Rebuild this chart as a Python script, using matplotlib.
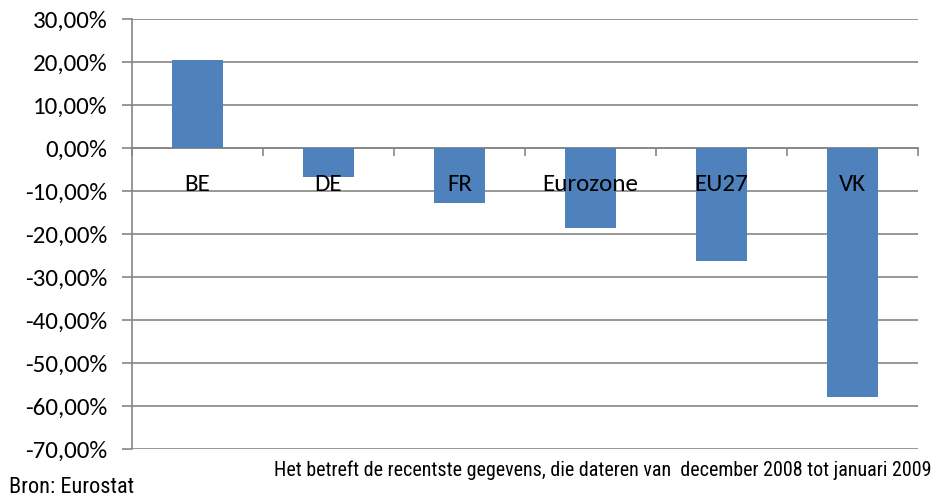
import numpy as np
import matplotlib
matplotlib.use("Agg")
import matplotlib.pyplot as plt
from matplotlib import font_manager as fm
from matplotlib.ticker import FuncFormatter, FixedLocator

# ── data ──
landen = ["BE", "DE", "FR", "Eurozone", "EU27", "VK"]
waarden = [20.5, -6.8, -12.8, -18.5, -26.3, -57.8]   # in %

BAR_KLEUR = "#4F81BD"
GRIJS = "#868686"


def eerste_font(namen):
    # neem de eerste familie die echt geïnstalleerd is
    for n in namen:
        try:
            fm.findfont(fm.FontProperties(family=n), fallback_to_default=False)
            return n
        except ValueError:
            pass
    return "DejaVu Sans"


HOOFD = eerste_font(["Carlito", "Lato", "Open Sans", "Noto Sans"])
SMAL = eerste_font(["Liberation Sans Narrow", "Arial Narrow", "Roboto Condensed", "Liberation Sans"])

plt.rcParams["font.family"] = [HOOFD, "DejaVu Sans"]

fig = plt.figure(figsize=(9.33, 4.99), dpi=100)
ax = fig.add_axes([132 / 933, 1 - 449 / 499, (918 - 132) / 933, (449 - 19) / 499])

x = np.arange(len(landen))
ax.bar(x, waarden, width=0.39, color=BAR_KLEUR, zorder=3)

ax.set_xlim(-0.5, len(landen) - 0.5)
ax.set_ylim(-70, 30)
ax.set_yticks(np.arange(-70, 31, 10))
ax.yaxis.set_major_formatter(FuncFormatter(lambda v, p: f"{v:.2f}%".replace(".", ",")))
ax.grid(axis="y", color=GRIJS, linewidth=1.2, zorder=0)
ax.set_axisbelow(True)

# x-as op de nullijn
ax.spines["bottom"].set_position(("data", 0))
ax.spines["bottom"].set_color(GRIJS)
ax.spines["bottom"].set_linewidth(1.2)
ax.spines["left"].set_color(GRIJS)
ax.spines["left"].set_linewidth(1.2)
ax.spines["top"].set_visible(False)
ax.spines["right"].set_visible(False)

ax.set_xticks(x)
ax.set_xticklabels([])
ax.xaxis.set_minor_locator(FixedLocator(np.arange(-0.5, len(landen), 1.0)))
ax.tick_params(axis="x", which="major", length=0)
ax.tick_params(axis="x", which="minor", length=6, width=1.2, color=GRIJS, direction="out")
ax.tick_params(axis="y", length=7, width=1.2, color=GRIJS, pad=11, labelsize=18, labelcolor="black")

# categorielabels boven de balken (zoals in Excel)
for xi, naam in zip(x, landen):
    ax.annotate(naam, xy=(xi, 0), xytext=(0, -26), textcoords="offset points",
                ha="center", va="center", fontsize=18, color="black", zorder=5)

fig.text(931 / 933, 1 - 476 / 499,
         "Het betreft de recentste gegevens, die dateren van  december 2008 tot januari 2009",
         ha="right", va="baseline", fontsize=14.4, family=[SMAL, "DejaVu Sans"])
fig.text(9 / 933, 1 - 493 / 499, "Bron: Eurostat", ha="left", va="baseline",
         fontsize=16, family=[SMAL, "DejaVu Sans"])

fig.savefig("out.png", dpi=100)
